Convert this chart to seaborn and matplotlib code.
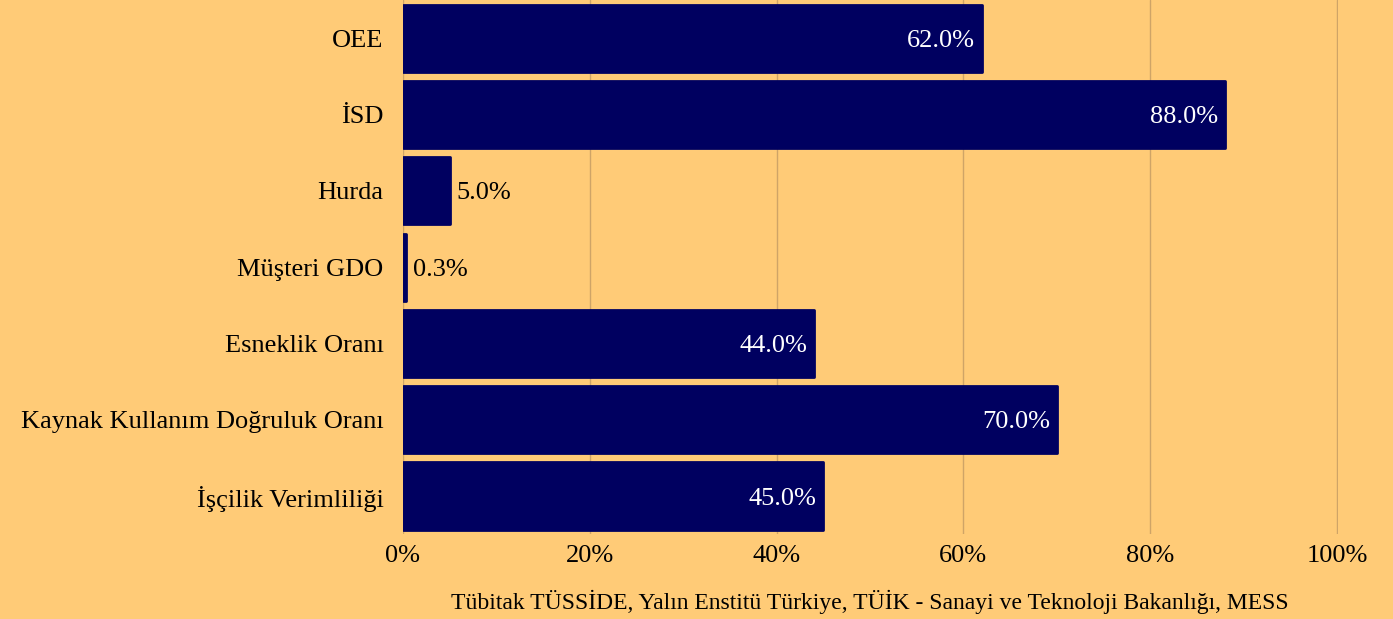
import matplotlib
matplotlib.use("Agg")
import matplotlib.pyplot as plt
import seaborn as sns
import pandas as pd
from matplotlib.ticker import FuncFormatter

categories = [
    "OEE",
    "İSD",
    "Hurda",
    "Müşteri GDO",
    "Esneklik Oranı",
    "Kaynak Kullanım Doğruluk Oranı",
    "İşçilik Verimliliği",
]
values = [62.0, 88.0, 5.0, 0.3, 44.0, 70.0, 45.0]
x_ticks = [0, 20, 40, 60, 80, 100]
source = "Tübitak TÜSSİDE, Yalın Enstitü Türkiye, TÜİK - Sanayi ve Teknoloji Bakanlığı, MESS"

BG = "#FFCB77"
NAVY = "#000060"
GRID = "#CFA467"

sns.set_style("white")
plt.rcParams["font.family"] = ["Liberation Serif", "DejaVu Serif"]
plt.rcParams["text.color"] = "black"
plt.rcParams["xtick.color"] = "black"
plt.rcParams["ytick.color"] = "black"

df = pd.DataFrame({"kategori": categories, "deger": values})

fig = plt.figure(figsize=(13.93, 6.19), dpi=100, facecolor=BG)
ax = fig.add_axes([0.2893, 0.137, 0.9605 - 0.2893, 0.863])
ax.set_facecolor(BG)

sns.barplot(
    data=df, x="deger", y="kategori", orient="y", color=NAVY,
    width=0.88, saturation=1, ax=ax, zorder=3,
)
for bar in ax.patches:
    bar.set_edgecolor(NAVY)
    bar.set_linewidth(2)
    bar.set_joinstyle("round")

ax.set_xlim(0, 100.1)
ax.set_xticks(x_ticks)
ax.xaxis.set_major_formatter(FuncFormatter(lambda v, _: f"{v:.0f}%"))
ax.grid(axis="x", color=GRID, linewidth=1, zorder=0)
ax.set_axisbelow(True)
for s in ax.spines.values():
    s.set_visible(False)
ax.tick_params(axis="y", length=0, pad=14, labelsize=19, labelcolor="black")
ax.tick_params(axis="x", length=0, pad=8, labelsize=19, labelcolor="black")
ax.set_xlabel("")
ax.set_ylabel("")

# value labels: inside (white) for long bars, outside (black) for short ones
for i, v in enumerate(values):
    if v > 20:
        ax.annotate(f"{v:.1f}%", (v, i), xytext=(-5, 0), textcoords="offset points",
                    ha="right", va="center_baseline", color="white", fontsize=19, zorder=5)
    else:
        ax.annotate(f"{v:.1f}%", (v, i), xytext=(5, 0), textcoords="offset points",
                    ha="left", va="center_baseline", color="black", fontsize=19, zorder=5)

fig.text(0.6246, 0.027, source, ha="center", va="center", fontsize=17)

fig.savefig("out.png", dpi=100, facecolor=BG)
